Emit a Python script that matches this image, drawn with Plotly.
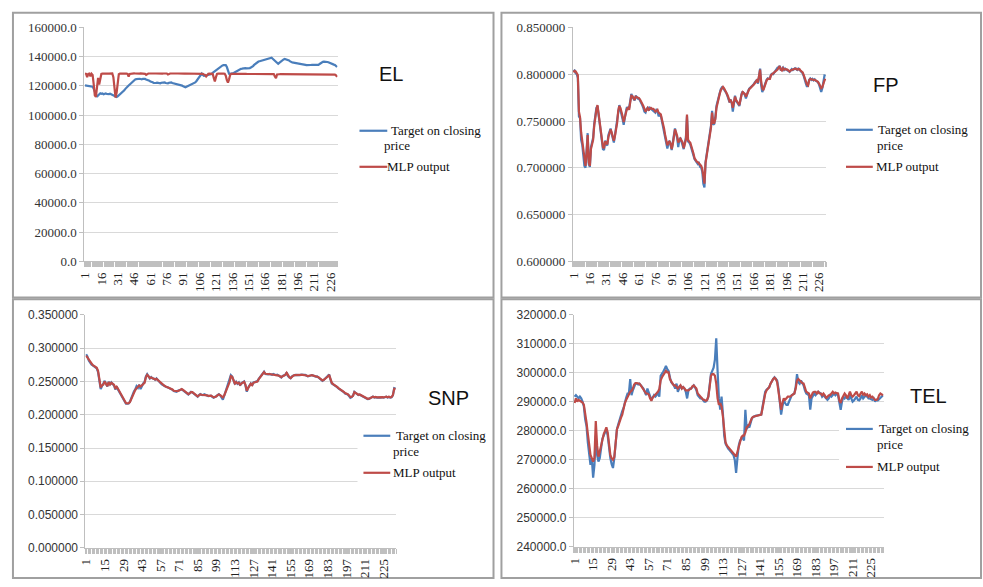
import plotly.graph_objects as go

# ---------------------------------------------------------------------------
# Daily series: target closing price vs. MLP network output (test period)
# ---------------------------------------------------------------------------
top_tick_labels = ["1", "16", "31", "46", "61", "76", "91", "106", "121", "136",
                   "151", "166", "181", "196", "211", "226"]
bottom_tick_labels = ["1", "15", "29", "43", "57", "71", "85", "99", "113", "127",
                      "141", "155", "169", "183", "197", "211", "225"]

el_target = [
    120400, 120300, 120500, 120200, 120300, 120000, 119800, 119500, 118000, 116500,
    115000, 112500, 113500, 114500, 115000, 114600, 114800, 114300, 114600, 114900,
    114500, 114200, 114400, 114700, 114300, 114000, 113600, 113200, 112800, 112500,
    112900, 113500, 114000, 115000, 115500, 116200, 117000, 118000, 119000, 119500,
    120300, 121000, 121800, 122500, 123000, 123800, 124400, 124600, 124800, 125100,
    124900, 124700, 124500, 124900, 125100, 124800, 124400, 124200, 124000, 123500,
    123000, 122900, 122500, 122000, 121800, 122000, 122200, 122000, 121800, 121800,
    122200, 122400, 122200, 122400, 122000, 121800, 121800, 122200, 122400, 122400,
    122000, 121800, 121600, 121800, 121500, 121300, 121100, 120800, 120500, 120200,
    119800, 119400, 119100, 119500, 119800, 120200, 120600, 121000, 121100, 121500,
    122000, 122400, 123200, 124200, 125100, 126500, 127500, 128400, 127500, 126900,
    127000, 127200, 127300, 127500, 127600, 127800, 128200, 129000, 129600, 130000,
    130600, 131200, 131800, 132400, 133000, 133600, 134000, 134200, 134400, 134200,
    132900, 130500, 128400, 128300, 128400, 128400, 128800, 129200, 129600, 130200,
    130800, 131300, 131500, 131700, 131800, 132000, 132100, 132200, 132000, 131900,
    131800, 132200, 132600, 132900, 133600, 134400, 135100, 135600, 136200, 136700,
    136900, 137100, 137300, 137700, 138100, 138400, 138600, 138800, 138900, 139100,
    139200, 139300, 138600, 138000, 137300, 136500, 135800, 135100, 135800, 136500,
    137300, 137700, 138100, 138400, 138200, 138100, 138000, 137400, 136800, 136200,
    136000, 135900, 135800, 135500, 135300, 135100, 135100, 135200, 135100, 135000,
    134800, 134600, 134400, 134200, 134100, 134000, 134200, 134300, 134400, 134400,
    134300, 134400, 134500, 134400, 134400, 135000, 135600, 136200, 136500, 136600,
    136700, 136500, 136400, 136200, 135800, 135500, 135100, 134800, 134600, 134400,
    133500, 132900,
]
el_mlp = [
    128500, 128300, 126000, 128200, 128400, 126500, 128300, 127500, 121000, 113500,
    112500, 118000, 125500, 121000, 126000, 128200, 128400, 128500, 128300, 128500,
    128400, 128500, 128400, 128600, 128400, 128500, 126000, 117000, 112000, 115500,
    124000, 128000, 128400, 128500, 128400, 128600, 128500, 128400, 128500, 128300,
    126300, 128200, 128400, 128500, 128400, 128600, 128500, 128400, 128500, 128500,
    128400, 128600, 128500, 128400, 128500, 128300, 127600, 128400, 128500, 128500,
    128400, 128600, 128500, 128400, 128500, 128500, 128400, 128600, 128500, 128400,
    128500, 128400, 128500, 128600, 128400, 128500, 127800, 128400, 128500, 128500,
    128400, 128500, 128600, 128400, 128500, 128500, 128400, 128500, 128600, 128400,
    128500, 128400, 128500, 128500, 128400, 128600, 128500, 128400, 128500, 128500,
    128400, 128500, 128600, 128400, 128500, 128300, 128400, 128500, 128200, 127800,
    127500, 126500, 127800, 128300, 128400, 128500, 128400, 128300, 125500, 123000,
    126000, 128200, 128400, 128500, 128400, 128300, 128400, 128500, 128300, 127000,
    124000, 122300, 124500, 127500, 128200, 128300, 128400, 128300, 128400, 128300,
    128300, 128200, 128300, 128300, 128200, 128300, 128200, 128300, 128200, 128200,
    128300, 128200, 128200, 128300, 128200, 128100, 128200, 128200, 128100, 128200,
    128200, 128100, 128200, 128100, 128100, 128200, 128100, 128100, 128200, 128100,
    128100, 128000, 128100, 128100, 126500, 125300, 127800, 128100, 128000, 128100,
    128100, 128000, 128000, 128100, 128000, 128000, 128100, 128000, 128000, 127900,
    128000, 128000, 127900, 128000, 128000, 127900, 128000, 127900, 127900, 128000,
    127900, 127900, 128000, 127900, 127900, 127800, 127900, 127900, 127800, 127900,
    127900, 127800, 127900, 127800, 127800, 127900, 127800, 127800, 127900, 127800,
    127800, 127800, 127900, 127800, 127800, 127800, 127700, 127800, 127800, 127700,
    127200, 126200,
]

fp_target = [
    0.8030, 0.8040, 0.8010, 0.8000, 0.7960, 0.7550, 0.7530, 0.7300, 0.7250, 0.7080,
    0.7020, 0.7000, 0.7180, 0.7370, 0.7040, 0.7010, 0.7220, 0.7280, 0.7320, 0.7470,
    0.7570, 0.7640, 0.7660, 0.7560, 0.7450, 0.7380, 0.7270, 0.7200, 0.7190, 0.7290,
    0.7250, 0.7240, 0.7350, 0.7390, 0.7420, 0.7360, 0.7300, 0.7270, 0.7350, 0.7430,
    0.7500, 0.7630, 0.7670, 0.7620, 0.7580, 0.7520, 0.7460, 0.7560, 0.7600, 0.7650,
    0.7630, 0.7640, 0.7720, 0.7790, 0.7760, 0.7730, 0.7720, 0.7770, 0.7750, 0.7740,
    0.7740, 0.7720, 0.7700, 0.7670, 0.7640, 0.7600, 0.7590, 0.7630, 0.7640, 0.7610,
    0.7640, 0.7630, 0.7630, 0.7620, 0.7610, 0.7590, 0.7620, 0.7610, 0.7550, 0.7570,
    0.7560, 0.7500, 0.7460, 0.7400, 0.7320, 0.7250, 0.7205, 0.7260, 0.7290, 0.7240,
    0.7190, 0.7270, 0.7350, 0.7420, 0.7360, 0.7320, 0.7220, 0.7300, 0.7320, 0.7280,
    0.7250, 0.7200, 0.7270, 0.7320, 0.7550, 0.7280, 0.7270, 0.7250, 0.7210, 0.7180,
    0.7130, 0.7090, 0.7070, 0.7060, 0.7040, 0.7050, 0.7010, 0.7000, 0.6960, 0.6830,
    0.6790, 0.7060, 0.7140, 0.7220, 0.7300, 0.7380, 0.7450, 0.7610, 0.7460, 0.7470,
    0.7540, 0.7660, 0.7720, 0.7760, 0.7800, 0.7840, 0.7860, 0.7855, 0.7840, 0.7820,
    0.7800, 0.7770, 0.7740, 0.7700, 0.7730, 0.7690, 0.7600, 0.7720, 0.7770, 0.7715,
    0.7690, 0.7680, 0.7660, 0.7750, 0.7790, 0.7815, 0.7795, 0.7780, 0.7740, 0.7800,
    0.7820, 0.7845, 0.7855, 0.7865, 0.7875, 0.7890, 0.7910, 0.7930, 0.7940, 0.7900,
    0.8000, 0.8060, 0.7880, 0.7810, 0.7840, 0.7890, 0.7910, 0.7940, 0.7955, 0.7950,
    0.7960, 0.7995, 0.8005, 0.8000, 0.8020, 0.8040, 0.8050, 0.8070, 0.8075, 0.8090,
    0.8040, 0.8050, 0.8070, 0.8045, 0.8060, 0.8050, 0.8045, 0.8035, 0.8025, 0.8045,
    0.8055, 0.8045, 0.8060, 0.8065, 0.8055, 0.8045, 0.8060, 0.8050, 0.8035, 0.8025,
    0.8010, 0.7980, 0.7950, 0.7900, 0.7865, 0.7890, 0.7940, 0.7955, 0.7940, 0.7950,
    0.7935, 0.7945, 0.7930, 0.7925, 0.7915, 0.7890, 0.7840, 0.7810, 0.7850, 0.7920,
    0.7985, 0.7980,
]
fp_mlp = [
    0.8020, 0.8035, 0.8030, 0.8010, 0.7990, 0.7600, 0.7540, 0.7380, 0.7300, 0.7200,
    0.7120, 0.7020, 0.7150, 0.7350, 0.7060, 0.7020, 0.7200, 0.7260, 0.7300, 0.7450,
    0.7560, 0.7620, 0.7670, 0.7580, 0.7470, 0.7400, 0.7300, 0.7220, 0.7210, 0.7280,
    0.7270, 0.7250, 0.7330, 0.7380, 0.7410, 0.7380, 0.7320, 0.7290, 0.7340, 0.7410,
    0.7480, 0.7610, 0.7660, 0.7640, 0.7600, 0.7550, 0.7490, 0.7540, 0.7590, 0.7630,
    0.7640, 0.7620, 0.7700, 0.7770, 0.7765, 0.7740, 0.7725, 0.7760, 0.7755, 0.7750,
    0.7745, 0.7730, 0.7710, 0.7680, 0.7660, 0.7630, 0.7600, 0.7620, 0.7640, 0.7620,
    0.7635, 0.7640, 0.7630, 0.7630, 0.7620, 0.7600, 0.7610, 0.7620, 0.7590, 0.7580,
    0.7570, 0.7520, 0.7480, 0.7420, 0.7350, 0.7280, 0.7240, 0.7270, 0.7280, 0.7260,
    0.7200, 0.7250, 0.7330, 0.7410, 0.7380, 0.7340, 0.7270, 0.7290, 0.7310, 0.7290,
    0.7270, 0.7210, 0.7250, 0.7300, 0.7570, 0.7300, 0.7280, 0.7270, 0.7230, 0.7200,
    0.7150, 0.7100, 0.7080, 0.7065, 0.7060, 0.7050, 0.7030, 0.7020, 0.6990, 0.6880,
    0.6830, 0.7050, 0.7120, 0.7200, 0.7290, 0.7360, 0.7430, 0.7590, 0.7480, 0.7480,
    0.7520, 0.7640, 0.7700, 0.7750, 0.7790, 0.7830, 0.7850, 0.7865, 0.7850, 0.7830,
    0.7810, 0.7780, 0.7750, 0.7710, 0.7720, 0.7700, 0.7640, 0.7700, 0.7760, 0.7725,
    0.7700, 0.7690, 0.7670, 0.7740, 0.7780, 0.7810, 0.7800, 0.7790, 0.7760, 0.7790,
    0.7810, 0.7840, 0.7850, 0.7860, 0.7870, 0.7880, 0.7900, 0.7920, 0.7935, 0.7910,
    0.7990, 0.8050, 0.7920, 0.7850, 0.7830, 0.7880, 0.7900, 0.7935, 0.7950, 0.7950,
    0.7950, 0.7990, 0.8000, 0.8000, 0.8010, 0.8030, 0.8040, 0.8050, 0.8070, 0.8085,
    0.8050, 0.8040, 0.8065, 0.8050, 0.8055, 0.8055, 0.8050, 0.8040, 0.8030, 0.8040,
    0.8050, 0.8050, 0.8055, 0.8060, 0.8060, 0.8050, 0.8055, 0.8055, 0.8040, 0.8030,
    0.8020, 0.7990, 0.7960, 0.7915, 0.7890, 0.7880, 0.7935, 0.7950, 0.7945, 0.7945,
    0.7940, 0.7940, 0.7935, 0.7930, 0.7920, 0.7900, 0.7870, 0.7850, 0.7860, 0.7900,
    0.7935, 0.7950,
]

snp_target = [
    0.2910, 0.2875, 0.2815, 0.2780, 0.2755, 0.2740, 0.2725, 0.2715, 0.2695, 0.2640,
    0.2510, 0.2385, 0.2430, 0.2460, 0.2510, 0.2460, 0.2425, 0.2495, 0.2450, 0.2485,
    0.2460, 0.2440, 0.2380, 0.2425, 0.2380, 0.2345, 0.2310, 0.2270, 0.2230, 0.2190,
    0.2165, 0.2165, 0.2168, 0.2195, 0.2250, 0.2310, 0.2350, 0.2380, 0.2430, 0.2405,
    0.2450, 0.2385, 0.2435, 0.2470, 0.2490, 0.2575, 0.2610, 0.2575, 0.2545, 0.2565,
    0.2545, 0.2545, 0.2525, 0.2545, 0.2515, 0.2495, 0.2475, 0.2455, 0.2440, 0.2430,
    0.2420, 0.2415, 0.2405, 0.2400, 0.2390, 0.2375, 0.2355, 0.2350, 0.2345, 0.2360,
    0.2370, 0.2380, 0.2380, 0.2365, 0.2350, 0.2325, 0.2310, 0.2305, 0.2325, 0.2345,
    0.2335, 0.2320, 0.2295, 0.2280, 0.2270, 0.2295, 0.2310, 0.2298, 0.2295, 0.2308,
    0.2295, 0.2290, 0.2280, 0.2282, 0.2285, 0.2270, 0.2255, 0.2265, 0.2278, 0.2300,
    0.2308, 0.2290, 0.2255, 0.2225, 0.2285, 0.2345, 0.2395, 0.2440, 0.2500, 0.2595,
    0.2575, 0.2515, 0.2460, 0.2495, 0.2465, 0.2485, 0.2440, 0.2475, 0.2495, 0.2500,
    0.2440, 0.2345, 0.2405, 0.2450, 0.2470, 0.2440, 0.2485, 0.2490, 0.2498, 0.2505,
    0.2540, 0.2565, 0.2580, 0.2605, 0.2645, 0.2612, 0.2605, 0.2605, 0.2612, 0.2605,
    0.2600, 0.2612, 0.2598, 0.2595, 0.2602, 0.2585, 0.2575, 0.2560, 0.2582, 0.2592,
    0.2600, 0.2635, 0.2580, 0.2560, 0.2548, 0.2578, 0.2590, 0.2596, 0.2600, 0.2596,
    0.2602, 0.2596, 0.2602, 0.2596, 0.2600, 0.2598, 0.2588, 0.2576, 0.2582, 0.2592,
    0.2596, 0.2588, 0.2576, 0.2572, 0.2576, 0.2560, 0.2540, 0.2525, 0.2510, 0.2522,
    0.2545, 0.2565, 0.2580, 0.2605, 0.2530, 0.2470, 0.2455, 0.2445, 0.2435, 0.2415,
    0.2395, 0.2382, 0.2372, 0.2360, 0.2340, 0.2318, 0.2315, 0.2305, 0.2282, 0.2255,
    0.2265, 0.2290, 0.2345, 0.2325, 0.2310, 0.2295, 0.2300, 0.2290, 0.2280, 0.2270,
    0.2255, 0.2240, 0.2235, 0.2238, 0.2248, 0.2255, 0.2272, 0.2258, 0.2265, 0.2258,
    0.2262, 0.2258, 0.2256, 0.2262, 0.2256, 0.2268, 0.2270, 0.2258, 0.2266, 0.2258,
    0.2262, 0.2290, 0.2400, 0.2395,
]
snp_mlp = [
    0.2890, 0.2860, 0.2820, 0.2790, 0.2760, 0.2745, 0.2735, 0.2720, 0.2705, 0.2660,
    0.2540, 0.2410, 0.2440, 0.2455, 0.2500, 0.2470, 0.2430, 0.2490, 0.2455, 0.2480,
    0.2465, 0.2450, 0.2400, 0.2420, 0.2390, 0.2350, 0.2320, 0.2280, 0.2240, 0.2200,
    0.2175, 0.2170, 0.2172, 0.2190, 0.2240, 0.2300, 0.2340, 0.2370, 0.2400, 0.2420,
    0.2440, 0.2425, 0.2440, 0.2460, 0.2480, 0.2560, 0.2600, 0.2580, 0.2550, 0.2560,
    0.2550, 0.2540, 0.2530, 0.2540, 0.2520, 0.2500, 0.2480, 0.2460, 0.2445, 0.2435,
    0.2425, 0.2418, 0.2410, 0.2405, 0.2395, 0.2380, 0.2360, 0.2355, 0.2350, 0.2355,
    0.2365, 0.2375, 0.2385, 0.2372, 0.2355, 0.2330, 0.2315, 0.2310, 0.2320, 0.2340,
    0.2340, 0.2325, 0.2300, 0.2285, 0.2275, 0.2290, 0.2305, 0.2300, 0.2298, 0.2305,
    0.2298, 0.2292, 0.2285, 0.2285, 0.2288, 0.2275, 0.2262, 0.2268, 0.2275, 0.2295,
    0.2305, 0.2295, 0.2270, 0.2262, 0.2290, 0.2340, 0.2390, 0.2430, 0.2490, 0.2580,
    0.2570, 0.2520, 0.2470, 0.2490, 0.2470, 0.2480, 0.2450, 0.2470, 0.2490, 0.2495,
    0.2450, 0.2360, 0.2400, 0.2440, 0.2465, 0.2445, 0.2480, 0.2488, 0.2495, 0.2500,
    0.2535, 0.2560, 0.2575, 0.2600, 0.2640, 0.2615, 0.2610, 0.2608, 0.2610, 0.2608,
    0.2605, 0.2610, 0.2600, 0.2598, 0.2600, 0.2588, 0.2578, 0.2565, 0.2580, 0.2590,
    0.2598, 0.2630, 0.2585, 0.2565, 0.2550, 0.2575, 0.2588, 0.2595, 0.2598, 0.2598,
    0.2600, 0.2598, 0.2600, 0.2598, 0.2598, 0.2600, 0.2590, 0.2580, 0.2580, 0.2590,
    0.2595, 0.2590, 0.2580, 0.2575, 0.2578, 0.2565, 0.2545, 0.2530, 0.2515, 0.2525,
    0.2540, 0.2560, 0.2575, 0.2600, 0.2540, 0.2480, 0.2460, 0.2450, 0.2440, 0.2420,
    0.2400, 0.2388, 0.2378, 0.2365, 0.2345, 0.2325, 0.2320, 0.2310, 0.2290, 0.2265,
    0.2270, 0.2285, 0.2340, 0.2330, 0.2315, 0.2300, 0.2305, 0.2295, 0.2285, 0.2275,
    0.2260, 0.2245, 0.2240, 0.2242, 0.2250, 0.2258, 0.2270, 0.2262, 0.2268, 0.2262,
    0.2265, 0.2262, 0.2260, 0.2265, 0.2260, 0.2270, 0.2272, 0.2262, 0.2270, 0.2262,
    0.2265, 0.2295, 0.2390, 0.2385,
]

tel_target = [
    291800, 292300, 291800, 291200, 291800, 291200, 290100, 288400, 284000, 281700,
    276000, 272800, 268300, 270600, 263900, 268300, 278400, 271700, 269400, 270600,
    273900, 277300, 278400, 279500, 280600, 278400, 273900, 270600, 268500, 267200,
    270600, 277300, 280600, 282300, 284000, 285500, 286800, 287900, 290100, 291500,
    292900, 292900, 297900, 292300, 294000, 295100, 296300, 296300, 296000, 296300,
    295700, 295100, 294600, 293500, 292300, 294600, 293500, 291800, 290700, 291500,
    292300, 291800, 292300, 293500, 291800, 299000, 299600, 300500, 301300, 302400,
    301300, 300700, 298500, 296800, 296300, 295700, 294600, 296300, 293500, 294800,
    295700, 294600, 295100, 294600, 293500, 291200, 294000, 294600, 294600, 295100,
    295700, 295000, 294000, 292300, 291800, 291200, 291200, 290600, 290100, 290100,
    290500, 291800, 296300, 299600, 300700, 301800, 304600, 311900, 300700, 291200,
    287300, 291800, 286200, 278400, 275600, 274500, 273900, 273400, 272800, 272200,
    271700, 270000, 265500, 270600, 275000, 276700, 277300, 277800, 276700, 287300,
    280600, 281700, 281200, 283400, 284500, 284800, 285100, 285300, 285300, 285400,
    285600, 285600, 288400, 291200, 293500, 294200, 294600, 295000, 296300, 297400,
    297900, 298500, 297900, 297400, 294600, 290000, 285600, 288400, 290700, 289600,
    289000, 289000, 290100, 291800, 292300, 292600, 292900, 295100, 299600, 296800,
    296300, 297400, 296500, 295700, 294000, 292900, 292600, 292300, 287300, 291200,
    292000, 292900, 292300, 292900, 293500, 293200, 292900, 291800, 292300, 291800,
    291200, 290700, 291200, 292300, 291800, 292600, 292900, 292300, 292900, 292300,
    289000, 287300, 290100, 291800, 291200, 291800, 291200, 290700, 292300, 291200,
    290100, 290500, 291200, 291800, 290700, 290500, 291200, 292300, 291200, 291800,
    292300, 291800, 291200, 291200, 291000, 290700, 291200, 290100, 290700, 290500,
    290900, 291500, 291800, 292300,
]
tel_mlp = [
    289600, 291200, 290100, 290700, 290400, 290100, 289800, 289000, 286500, 282900,
    279000, 276100, 271700, 270600, 269400, 270600, 283400, 275000, 271100, 272800,
    275000, 277300, 278900, 280000, 281200, 279500, 276100, 271700, 270500, 270000,
    271000, 276700, 280600, 281700, 283400, 284500, 285600, 287900, 289600, 290700,
    291800, 292900, 293500, 293800, 294600, 296000, 296500, 296500, 296500, 296300,
    295700, 294900, 294000, 293200, 292900, 292900, 292600, 291200, 290400, 291500,
    292000, 292300, 292900, 293500, 294500, 297400, 298500, 299300, 299600, 300700,
    300200, 300200, 297900, 296800, 296300, 295700, 295700, 295100, 294600, 295200,
    295700, 294600, 295100, 294600, 294000, 294000, 294000, 294300, 294600, 295400,
    295700, 295100, 294600, 292900, 292300, 291600, 291200, 290800, 290700, 290400,
    290600, 291800, 295100, 299000, 299600, 299600, 299000, 296300, 291200, 289000,
    289600, 288400, 285100, 279500, 276100, 275000, 274500, 274000, 273400, 272800,
    272400, 271700, 271100, 272800, 275000, 276700, 277800, 278400, 278400, 279500,
    281200, 281700, 282300, 283400, 284500, 284900, 285000, 285300, 285200, 285400,
    285600, 285600, 287900, 291200, 292900, 294000, 294600, 295100, 296300, 297400,
    297900, 298300, 297900, 296800, 294000, 290500, 287300, 289600, 291200, 290700,
    291200, 291800, 291800, 291800, 292300, 292600, 292900, 294600, 297400, 297900,
    297400, 296800, 296500, 296300, 294800, 293500, 293200, 292900, 291200, 292300,
    293200, 293500, 293500, 292900, 293500, 292900, 292900, 292300, 292900, 292300,
    291200, 291800, 292300, 292300, 292900, 293500, 292900, 293200, 293000, 292900,
    290400, 289600, 291200, 292300, 292900, 292300, 291200, 292300, 293500, 292300,
    291800, 292300, 292900, 293500, 292300, 292000, 292900, 293500, 292300, 292900,
    292300, 292600, 291800, 292300, 291500, 291800, 291200, 290700, 290700, 291000,
    292300, 292900, 292600, 292300,
]

series_names = ["Target on closing price", "MLP output"]
legend_lines = [[" Target on closing", "price"], ["MLP output"]]

# ---------------------------------------------------------------------------
# Styling
# ---------------------------------------------------------------------------
W, H = 983, 587
BLUE = "#4a7ebb"
RED = "#be4b48"
GRID = "#d9d9d9"
AXIS = "#bfbfbf"
SERIF = "Liberation Serif, Times New Roman, serif"
SANS = "Liberation Sans, Arial, sans-serif"
LINE_W = 2.2


def px_x(v):
    return v / W


def px_y(v):
    return 1 - v / H


fig = go.Figure()

panels = [
    # plot box (left, right, top, bottom px); key = legend key geometry:
    # (line x0, line x1, first-row y, text x of row 1, text x of row 2,
    #  second-row y, MLP row y, MLP text x); mask = white box behind the key
    dict(name="EL", target=el_target, mlp=el_mlp, ticks=top_tick_labels,
         box=(78, 333, 21, 261), yr=(0, 160000), dy=20000, fmt=".1f",
         yfont=dict(family=SERIF, size=13),
         key=(355, 383, 127, 383, 379, 142, 164, 382), mask=None,
         title=(387, 69)),
    dict(name="FP", target=fp_target, mlp=fp_mlp, ticks=top_tick_labels,
         box=(570, 825, 21, 261), yr=(0.6, 0.85), dy=0.05, fmt=".6f",
         yfont=dict(family=SERIF, size=13),
         key=(845, 872, 126, 873, 875, 142, 164, 874), mask=None,
         title=(885, 80)),
    dict(name="SNP", target=snp_target, mlp=snp_mlp, ticks=bottom_tick_labels,
         box=(79, 392, 316, 555), yr=(0, 0.35), dy=0.05, fmt=".6f",
         yfont=dict(family=SANS, size=12),
         key=(359, 386, 440, 388, 388, 456, 478, 388), mask=(353, 425, 400, 495),
         title=(445, 401)),
    dict(name="TEL", target=tel_target, mlp=tel_mlp, ticks=bottom_tick_labels,
         box=(571, 883, 316, 554), yr=(240000, 320000), dy=10000, fmt=".1f",
         yfont=dict(family=SANS, size=12),
         key=(845, 872, 433, 874, 875, 449, 472, 875), mask=(838, 415, 890, 488),
         title=(928, 399)),
]

layout_axes = {}
annotations = []
shapes = []

# Panel frames
frames = [(6, 490, 6, 298), (498, 981, 6, 298), (6, 490, 300, 586), (498, 981, 300, 586)]
for x0, x1, y0, y1 in frames:
    shapes.append(dict(type="rect", xref="paper", yref="paper",
                       x0=px_x(x0), x1=px_x(x1), y0=px_y(y1), y1=px_y(y0),
                       line=dict(color="#a0a0a0", width=2), layer="below"))

label_font = dict(family=SERIF, size=13, color="#111")

for i, p in enumerate(panels, start=1):
    sfx = "" if i == 1 else str(i)
    n = len(p["target"])
    days = list(range(1, n + 1))
    for values, name, color in ((p["target"], series_names[0], BLUE),
                                (p["mlp"], series_names[1], RED)):
        fig.add_trace(go.Scatter(
            x=days, y=values, name=name, mode="lines",
            line=dict(color=color, width=LINE_W),
            xaxis="x" + sfx, yaxis="y" + sfx, showlegend=False,
            hovertemplate="%{x}: %{y}<extra>" + name + "</extra>",
        ))

    left, right, top, bottom = p["box"]
    tickvals = [int(t) for t in p["ticks"]]
    layout_axes["xaxis" + sfx] = dict(
        domain=[px_x(left), px_x(right)], anchor="y" + sfx,
        range=[0.5, n + 0.5], tickmode="array", tickvals=tickvals,
        ticktext=p["ticks"], tickangle=-90,
        tickfont=dict(family=SERIF, size=13, color="#222"),
        ticks="outside", ticklen=5, tickcolor=AXIS,
        minor=dict(ticks="outside", tickmode="linear", tick0=0.5, dtick=1,
                   ticklen=5, tickcolor=AXIS, tickwidth=1, showgrid=False),
        showline=True, linecolor=AXIS, linewidth=1,
        showgrid=False, zeroline=False, fixedrange=True,
    )
    layout_axes["yaxis" + sfx] = dict(
        domain=[px_y(bottom), px_y(top)], anchor="x" + sfx,
        range=list(p["yr"]), tickmode="linear", tick0=p["yr"][0], dtick=p["dy"],
        tickformat=p["fmt"], tickfont=dict(color="#333", **p["yfont"]),
        ticks="outside", ticklen=4, tickcolor=AXIS,
        showline=True, linecolor=AXIS, linewidth=1,
        showgrid=True, gridcolor=GRID, gridwidth=1, zeroline=False,
        fixedrange=True,
    )

    # Series key: white box (where it sits over the grid), line samples, labels
    if p["mask"]:
        mx0, my0, mx1, my1 = p["mask"]
        shapes.append(dict(type="rect", xref="paper", yref="paper",
                           x0=px_x(mx0), x1=px_x(mx1), y0=px_y(my1), y1=px_y(my0),
                           line=dict(width=0), fillcolor="white", layer="above"))
    lx0, lx1, r1, t1x, t2x, r2, r3, t3x = p["key"]
    for color, ry in ((BLUE, r1), (RED, r3)):
        shapes.append(dict(type="line", xref="paper", yref="paper",
                           x0=px_x(lx0), x1=px_x(lx1), y0=px_y(ry), y1=px_y(ry),
                           line=dict(color=color, width=LINE_W), layer="above"))
    for text, tx, ty in ((legend_lines[0][0], t1x, r1),
                         (legend_lines[0][1], t2x, r2),
                         (legend_lines[1][0], t3x, r3)):
        annotations.append(dict(
            text=text, x=px_x(tx), y=px_y(ty), xref="paper", yref="paper",
            xanchor="left", yanchor="middle", showarrow=False,
            font=label_font, borderpad=0,
        ))

    tx, ty = p["title"]
    annotations.append(dict(
        text=p["name"], x=px_x(tx), y=px_y(ty), xref="paper", yref="paper",
        xanchor="center", yanchor="middle", showarrow=False,
        font=dict(family=SANS, size=20, color="#111"),
    ))

fig.update_layout(
    width=W, height=H, autosize=False,
    margin=dict(l=0, r=0, t=0, b=0),
    paper_bgcolor="white", plot_bgcolor="white",
    showlegend=False,
    annotations=annotations, shapes=shapes,
    **layout_axes,
)

# The page itself gets no body margin so the figure fills the window exactly.
fig.write_html("out.html", post_script="document.body.style.margin = '0';")
